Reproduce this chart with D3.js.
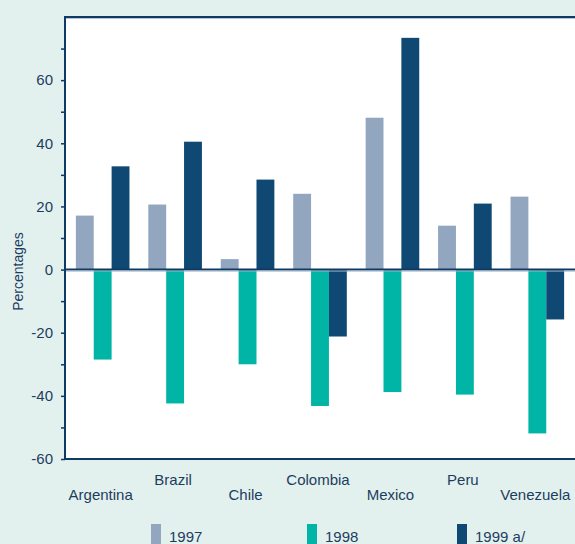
<!DOCTYPE html>
<html>
<head>
<meta charset="utf-8">
<script src="https://cdnjs.cloudflare.com/ajax/libs/d3/7.8.5/d3.min.js"></script>
<style>
  body { margin: 0; background: #e3f1ee; }
  svg { display: block; }
  text { font-family: "Liberation Sans", Arial, sans-serif; fill: #1d3d5f; }
</style>
</head>
<body>
<div id="chart"></div>
<script>
// Data
const countries = ["Argentina", "Brazil", "Chile", "Colombia", "Mexico", "Peru", "Venezuela"];
const seriesNames = ["1997", "1998", "1999 a/"];
const values1997 = [17.1, 20.6, 3.3, 24.0, 48.1, 13.9, 23.1];
const values1998 = [-28.5, -42.4, -30.0, -43.2, -38.8, -39.6, -51.9];
const values1999 = [32.7, 40.5, 28.5, -21.2, 73.4, 20.9, -15.8];
const yTicks = [-60, -40, -20, 0, 20, 40, 60];
const colors = ["#92a6c0", "#00b4a6", "#0f4872"];

// Dimensions
const width = 575;
const height = 544;
const plotLeft = 65;
const plotTop = 17;
const plotBottom = 459;

const svg = d3.select("#chart")
  .append("svg")
  .attr("width", width)
  .attr("height", height);

svg.append("rect")
  .attr("width", width).attr("height", height)
  .attr("fill", "#e3f1ee");

// plot background
svg.append("rect")
  .attr("x", plotLeft).attr("y", plotTop)
  .attr("width", width - plotLeft).attr("height", plotBottom - plotTop)
  .attr("fill", "#ffffff");

// Scales
const x0 = d3.scaleBand()
  .domain(countries)
  .range([plotLeft, width])
  .paddingInner(0.26)
  .paddingOuter(0.15);

const x1 = d3.scaleBand()
  .domain(seriesNames)
  .range([0, x0.bandwidth()]);

const y = d3.scaleLinear()
  .domain([-60, 80])
  .range([plotBottom, plotTop]);

// rows for drawing
const rows = [];
countries.forEach((c, i) => {
  rows.push({ country: c, series: seriesNames[0], value: values1997[i] });
  rows.push({ country: c, series: seriesNames[1], value: values1998[i] });
  rows.push({ country: c, series: seriesNames[2], value: values1999[i] });
});

// Bars
svg.append("g")
  .selectAll("rect")
  .data(rows).enter()
  .append("rect")
  .attr("x", d => x0(d.country) + x1(d.series))
  .attr("width", x1.bandwidth())
  .attr("y", d => y(Math.max(0, d.value)))
  .attr("height", d => Math.abs(y(d.value) - y(0)))
  .attr("fill", d => colors[seriesNames.indexOf(d.series)]);

// Top border (double line)
svg.append("line")
  .attr("x1", plotLeft).attr("x2", width)
  .attr("y1", plotTop).attr("y2", plotTop)
  .attr("stroke", "#0e3a63").attr("stroke-width", 2);
svg.append("line")
  .attr("x1", plotLeft).attr("x2", width)
  .attr("y1", plotTop + 1.5).attr("y2", plotTop + 1.5)
  .attr("stroke", "#b7c6d6").attr("stroke-width", 1);

// Zero line
svg.append("line")
  .attr("x1", plotLeft).attr("x2", width)
  .attr("y1", y(0)).attr("y2", y(0))
  .attr("stroke", "#0e3a63").attr("stroke-width", 2);
svg.append("line")
  .attr("x1", plotLeft).attr("x2", width)
  .attr("y1", y(0) + 1.5).attr("y2", y(0) + 1.5)
  .attr("stroke", "#9fb1c6").attr("stroke-width", 1);

// Bottom line
svg.append("line")
  .attr("x1", plotLeft).attr("x2", width)
  .attr("y1", plotBottom).attr("y2", plotBottom)
  .attr("stroke", "#0e3a63").attr("stroke-width", 2);

// Y axis
const yAxis = svg.append("g")
  .attr("transform", "translate(" + plotLeft + ",0)")
  .call(d3.axisLeft(y)
    .tickValues(d3.range(-60, 80, 10))
    .tickSize(4)
    .tickPadding(8)
    .tickFormat(d => yTicks.includes(d) ? d : ""));
yAxis.select(".domain").remove();
yAxis.selectAll(".tick line").attr("stroke", "#0e3a63").attr("stroke-width", 1.5);
yAxis.selectAll(".tick text")
  .attr("font-size", 15)
  .attr("fill", "#1d3d5f")
  .style("font-family", "Liberation Sans, Arial, sans-serif");
svg.append("line")
  .attr("x1", plotLeft).attr("x2", plotLeft)
  .attr("y1", plotTop - 1).attr("y2", plotBottom + 1)
  .attr("stroke", "#0e3a63").attr("stroke-width", 2);

// Y title, centred near the zero line like the original
svg.append("text")
  .attr("transform", "translate(23," + (y(0) + 2) + ") rotate(-90)")
  .attr("text-anchor", "middle")
  .attr("font-size", 14)
  .text("Percentages");

// Category labels, staggered
svg.append("g")
  .selectAll("text")
  .data(countries).enter()
  .append("text")
  .attr("x", d => x0(d) + x0.bandwidth() / 2 - 2)
  .attr("y", (d, i) => i % 2 === 0 ? 500 : 485)
  .attr("text-anchor", "middle")
  .attr("font-size", 15)
  .text(d => d);

// Legend
const legendX = [151, 307, 457];
const legend = svg.append("g")
  .selectAll("g")
  .data(seriesNames).enter()
  .append("g")
  .attr("transform", (d, i) => "translate(" + legendX[i] + ",524)");
legend.append("rect")
  .attr("width", 10).attr("height", 24)
  .attr("fill", (d, i) => colors[i]);
legend.append("text")
  .attr("x", 18).attr("y", 18)
  .attr("font-size", 15)
  .text(d => d);
</script>
</body>
</html>
